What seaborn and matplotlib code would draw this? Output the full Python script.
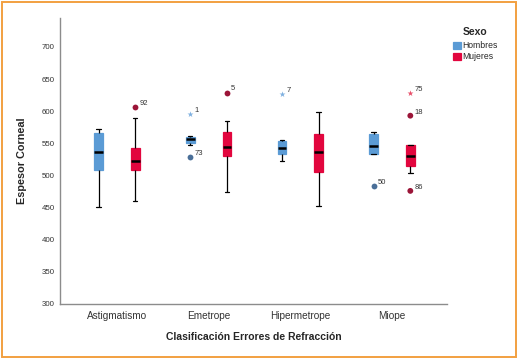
import pandas as pd
import matplotlib
matplotlib.use("Agg")
import matplotlib.pyplot as plt
from matplotlib.patches import Rectangle
import seaborn as sns

# categories and groups
categories = ["Astigmatismo", "Emetrope", "Hipermetrope", "Miope"]
sexos = ["Hombres", "Mujeres"]

# five-number summaries: whisker low, Q1, median, Q3, whisker high
hombres_stats = [
    [451, 509, 537, 566, 572],
    [548, 550, 556, 560, 562],
    [523, 534, 542, 554, 555],
    [533, 534, 546, 565, 568],
]
mujeres_stats = [
    [460, 509, 523, 542, 589],
    [475, 530, 545, 567, 585],
    [453, 506, 536, 565, 598],
    [504, 514, 530, 547, 548],
]

# outliers (circles) and extremes (stars) with case numbers
out_cat = ["Astigmatismo", "Emetrope", "Emetrope", "Miope", "Miope", "Miope"]
out_sexo = ["Mujeres", "Hombres", "Mujeres", "Hombres", "Mujeres", "Mujeres"]
out_val = [607, 528, 629, 484, 593, 476]
out_case = ["92", "73", "5", "50", "18", "86"]

ext_cat = ["Emetrope", "Hipermetrope", "Miope"]
ext_sexo = ["Hombres", "Hombres", "Mujeres"]
ext_val = [595, 627, 628]
ext_case = ["1", "7", "75"]

box_colors = {"Hombres": "#5b9bd5", "Mujeres": "#e2063e"}
out_colors = {"Hombres": "#4a6f98", "Mujeres": "#9b1538"}
ext_colors = {"Hombres": "#7fb0e0", "Mujeres": "#e8506a"}

rows = []
for cat, h, m in zip(categories, hombres_stats, mujeres_stats):
    for v in h:
        rows.append((cat, "Hombres", v))
    for v in m:
        rows.append((cat, "Mujeres", v))
box_df = pd.DataFrame(rows, columns=["Clasificacion", "Sexo", "Espesor"])
out_df = pd.DataFrame({"Clasificacion": out_cat, "Sexo": out_sexo,
                       "Espesor": out_val, "Caso": out_case})
ext_df = pd.DataFrame({"Clasificacion": ext_cat, "Sexo": ext_sexo,
                       "Espesor": ext_val, "Caso": ext_case})

sns.set_style("white")
plt.rcParams["font.family"] = ["Liberation Sans", "DejaVu Sans"]

fig = plt.figure(figsize=(5.19, 3.59), dpi=100)
ax = fig.add_axes([60 / 519, 1 - 304 / 359, 387 / 519, 286 / 359])

sns.boxplot(
    data=box_df, x="Clasificacion", y="Espesor", hue="Sexo",
    order=categories, hue_order=sexos, palette=box_colors,
    whis=(0, 100), showfliers=False, width=0.8, gap=0.76,
    saturation=1, linecolor="black", linewidth=0.9,
    medianprops={"color": "black", "linewidth": 1.8},
    ax=ax,
)
# box outlines in the fill colour, as in the original
for p in ax.patches:
    p.set_edgecolor(p.get_facecolor())

sns.stripplot(
    data=out_df, x="Clasificacion", y="Espesor", hue="Sexo",
    order=categories, hue_order=sexos, palette=out_colors,
    dodge=True, jitter=False, marker="o", size=4.2, linewidth=0,
    legend=False, ax=ax,
)
sns.stripplot(
    data=ext_df, x="Clasificacion", y="Espesor", hue="Sexo",
    order=categories, hue_order=sexos, palette=ext_colors,
    dodge=True, jitter=False, marker="*", size=4.5, linewidth=0,
    legend=False, ax=ax,
)

# case labels next to the points
for df in (out_df, ext_df):
    for _, r in df.iterrows():
        xpos = categories.index(r["Clasificacion"]) + (-0.2 if r["Sexo"] == "Hombres" else 0.2)
        ax.annotate(r["Caso"], (xpos, r["Espesor"]), xytext=(3, 1.5),
                    textcoords="offset points", fontsize=5.5, color="#333333")

ax.set_xlim(-0.62, 3.6)
ax.set_ylim(300, 745)
ax.set_yticks(range(300, 701, 50))
ax.tick_params(length=0, labelsize=5.7, colors="#333333", pad=4)
ax.tick_params(axis="x", labelsize=7.2, pad=5)
sns.despine(ax=ax)
for s in ("left", "bottom"):
    ax.spines[s].set_color("#8c8c8c")
    ax.spines[s].set_linewidth(1.0)

ax.set_xlabel("Clasificación Errores de Refracción", fontsize=7.5,
              fontweight="bold", labelpad=8)
ax.set_ylabel("Espesor Corneal", fontsize=7.8, fontweight="bold", labelpad=10)

sns.move_legend(ax, loc="upper left", bbox_to_anchor=(1.0, 0.99), title="Sexo",
                frameon=False, fontsize=6.2, title_fontsize=7.5,
                handlelength=0.9, handleheight=0.9, handletextpad=0.2,
                labelspacing=0.25, borderaxespad=0.3)
leg = ax.get_legend()
leg.get_title().set_fontweight("bold")
leg._legend_box.sep = 3
for h in leg.legend_handles:
    h.set_edgecolor(h.get_facecolor())

# orange frame around the whole picture
fig.patches.append(Rectangle((0.003, 0.005), 0.992, 0.99, transform=fig.transFigure,
                             fill=False, edgecolor="#f2a040", linewidth=1.4))

fig.savefig("out.png", dpi=100)
